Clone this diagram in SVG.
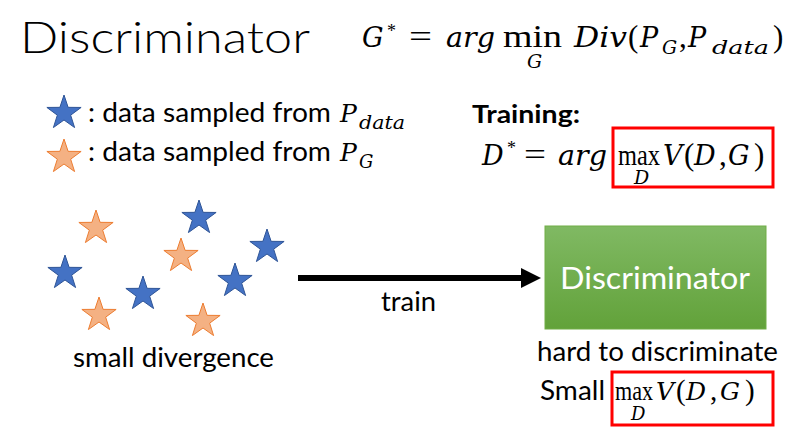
<svg xmlns="http://www.w3.org/2000/svg" xmlns:xlink="http://www.w3.org/1999/xlink" width="791" height="440" viewBox="0 0 791 440">
  <style>
    .sans { font-family: Lato, "Liberation Sans", sans-serif; fill: #000; }
    .math { font-family: "Liberation Serif", "Times New Roman", serif; fill: #000; }
    .var { font-family: "DejaVu Serif", "Liberation Serif", serif; font-style: italic; fill: #000; }
    .v30 { font-size: 27px; }
    .v28 { font-size: 25px; }
    .m30 { font-size: 31px; }
    .m28 { font-size: 29px; }
    .sub { font-size: 19px; }
    .blue { fill: #4472c4; stroke: #2f5597; stroke-width: 1; }
    .orange { fill: #f4b183; stroke: #ed7d31; stroke-width: 1; }
    .redbox { fill: none; stroke: #ff0000; stroke-width: 3; }
  </style>
  <defs>
    <path id="star" d="M0,-18 L4.11,-5.66 L17.12,-5.56 L6.66,2.16 L10.58,14.56 L0,7 L-10.58,14.56 L-6.66,2.16 L-17.12,-5.56 L-4.11,-5.66 Z"/>
    <linearGradient id="green" x1="0" y1="0" x2="0" y2="1">
      <stop offset="0" stop-color="#80b963"/>
      <stop offset="1" stop-color="#62a23a"/>
    </linearGradient>
  </defs>

  <rect width="791" height="440" fill="#ffffff"/>

  <g id="title">
    <text class="sans" x="20" y="53" font-size="44" font-weight="300" textLength="290" lengthAdjust="spacingAndGlyphs">Discriminator</text>
  </g>

  <g id="formula-g">
    <text class="var v30" x="362" y="47">G</text>
    <text class="math" x="387" y="37" font-size="18">*</text>
    <text class="math m30" x="409" y="47" textLength="23" lengthAdjust="spacingAndGlyphs">=</text>
    <text class="var v30" x="446" y="47" textLength="49" lengthAdjust="spacingAndGlyphs">arg</text>
    <text class="math m30" x="503" y="47" textLength="59" lengthAdjust="spacingAndGlyphs">min</text>
    <text class="var sub" x="527" y="68">G</text>
    <text class="var v30" x="574" y="47" textLength="53" lengthAdjust="spacingAndGlyphs">Div</text>
    <text class="math m30" x="628" y="47">(</text>
    <text class="var v30" x="640" y="47">P</text>
    <text class="var sub" x="662" y="54">G</text>
    <text class="math m30" x="679" y="47">,</text>
    <text class="var v30" x="688" y="47">P</text>
    <text class="var sub" x="712" y="54" textLength="57" lengthAdjust="spacingAndGlyphs">data</text>
    <text class="math m30" x="773" y="47">)</text>
  </g>

  <g id="legend-real">
    <use xlink:href="#star" href="#star" class="blue" transform="translate(64,113)"/>
    <text class="sans" x="88" y="122" font-size="26" textLength="243" lengthAdjust="spacingAndGlyphs">: data sampled from</text>
    <text class="var v28" x="340" y="122">P</text>
    <text class="var" x="359" y="129" font-size="18" textLength="46" lengthAdjust="spacingAndGlyphs">data</text>
  </g>

  <g id="legend-gen">
    <use xlink:href="#star" href="#star" class="orange" transform="translate(64,157)"/>
    <text class="sans" x="88" y="161" font-size="26" textLength="243" lengthAdjust="spacingAndGlyphs">: data sampled from</text>
    <text class="var v28" x="340" y="161">P</text>
    <text class="var" x="359" y="168" font-size="18">G</text>
  </g>

  <g id="training">
    <text class="sans" x="472" y="123" font-size="24" font-weight="bold" textLength="108" lengthAdjust="spacingAndGlyphs">Training:</text>
    <text class="var v30" x="482" y="165">D</text>
    <text class="math" x="507" y="154" font-size="18">*</text>
    <text class="math m30" x="524" y="165" textLength="22" lengthAdjust="spacingAndGlyphs">=</text>
    <text class="var v30" x="558" y="165" textLength="49" lengthAdjust="spacingAndGlyphs">arg</text>
    <rect class="redbox" x="613" y="128" width="160" height="59"/>
    <text class="math m28" x="618" y="165" textLength="42" lengthAdjust="spacingAndGlyphs">max</text>
    <text class="var sub" x="634" y="184">D</text>
    <text class="var v30" x="663" y="165">V</text>
    <text class="math m30" x="684" y="165">(</text>
    <text class="var v30" x="694" y="165">D</text>
    <text class="math m30" x="719" y="165">,</text>
    <text class="var v30" x="728" y="165">G</text>
    <text class="math m30" x="754" y="165">)</text>
  </g>

  <g id="samples">
    <use xlink:href="#star" href="#star" class="orange" transform="translate(96,228)"/>
    <use xlink:href="#star" href="#star" class="blue" transform="translate(199,218)"/>
    <use xlink:href="#star" href="#star" class="orange" transform="translate(181,256)"/>
    <use xlink:href="#star" href="#star" class="blue" transform="translate(267,247)"/>
    <use xlink:href="#star" href="#star" class="blue" transform="translate(65,273)"/>
    <use xlink:href="#star" href="#star" class="blue" transform="translate(143,294)"/>
    <use xlink:href="#star" href="#star" class="blue" transform="translate(235,281)"/>
    <use xlink:href="#star" href="#star" class="orange" transform="translate(99,315)"/>
    <use xlink:href="#star" href="#star" class="orange" transform="translate(203,321)"/>
    <text class="sans" x="73" y="367" font-size="26" textLength="201" lengthAdjust="spacingAndGlyphs">small divergence</text>
  </g>

  <g id="connectors">
    <line x1="298" y1="278" x2="523" y2="278" stroke="#000" stroke-width="6"/>
    <polygon points="521,268 541,278 521,288" fill="#000"/>
    <text class="sans" x="381" y="311" font-size="26" textLength="55" lengthAdjust="spacingAndGlyphs">train</text>
  </g>

  <g id="discriminator">
    <rect x="545" y="226" width="221" height="103" fill="url(#green)" stroke="#70ad47" stroke-width="1"/>
    <text class="sans" x="560" y="289" font-size="30" style="fill:#ffffff" textLength="190" lengthAdjust="spacingAndGlyphs">Discriminator</text>
  </g>

  <g id="result">
    <text class="sans" x="537" y="361" font-size="26" textLength="241" lengthAdjust="spacingAndGlyphs">hard to discriminate</text>
    <text class="sans" x="540" y="400" font-size="27" textLength="65" lengthAdjust="spacingAndGlyphs">Small</text>
    <rect class="redbox" x="612" y="372" width="161" height="53"/>
    <text class="math" x="615" y="400" font-size="28" textLength="38" lengthAdjust="spacingAndGlyphs">max</text>
    <text class="var" x="631" y="420" font-size="18">D</text>
    <text class="var v28" x="656" y="400">V</text>
    <text class="math m28" x="676" y="400">(</text>
    <text class="var v28" x="686" y="400">D</text>
    <text class="math m28" x="710" y="400">,</text>
    <text class="var v28" x="720" y="400">G</text>
    <text class="math m28" x="745" y="400">)</text>
  </g>
</svg>
